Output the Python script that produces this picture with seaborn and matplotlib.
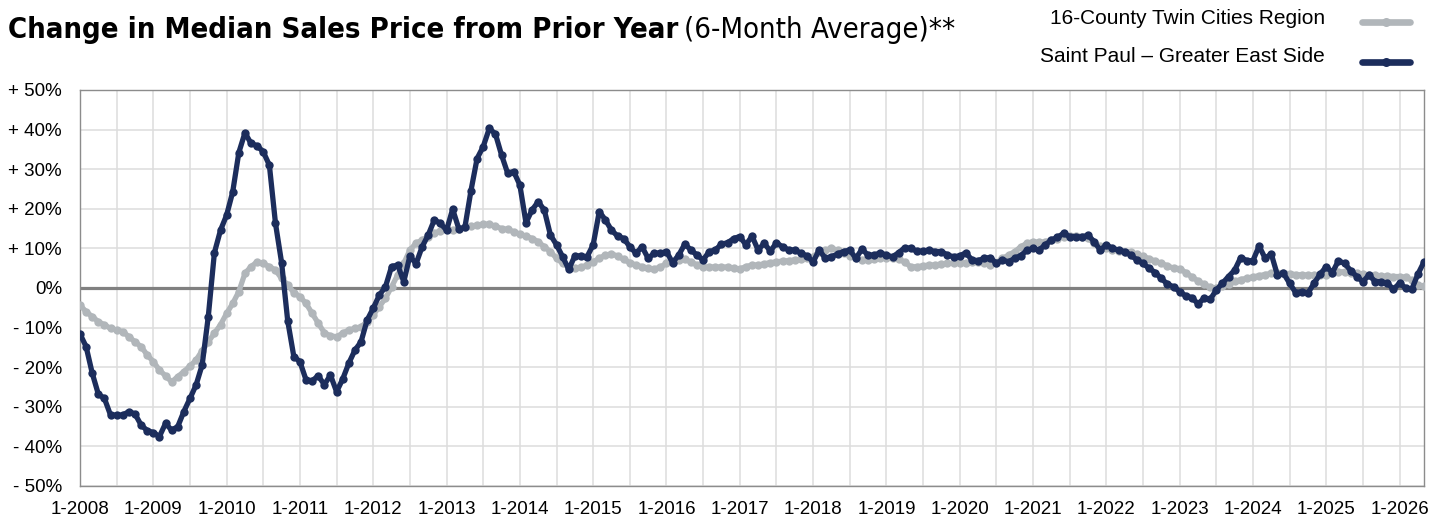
import matplotlib
matplotlib.use("Agg")
import matplotlib.pyplot as plt
from matplotlib.lines import Line2D
from matplotlib import font_manager
import seaborn as sns
import pandas as pd
import numpy as np

# monthly values, 1-2008 .. 5-2026 (percent)
saint_paul = [
    -11.6, -14.8, -21.5, -26.8, -27.9, -32.1, -32.1, -32.1, -31.2, -31.8, -34.6, -36.0,  # 2008
    -36.5, -37.5, -34.2, -35.9, -35.0, -31.2, -27.9, -24.5, -19.4, -7.2, 8.9, 14.6,      # 2009
    18.4, 24.3, 34.2, 39.2, 36.5, 35.9, 34.4, 31.0, 16.3, 6.4, -8.3, -17.3,              # 2010
    -18.6, -23.2, -23.4, -22.2, -24.4, -22.0, -26.2, -23.0, -19.0, -15.7, -13.6, -8.1,   # 2011
    -5.1, -1.8, 0.3, 5.4, 5.8, 1.6, 8.1, 6.1, 10.4, 13.4, 17.2, 16.3,                    # 2012
    14.6, 19.9, 15.0, 15.3, 24.6, 32.7, 35.7, 40.3, 38.9, 33.6, 29.0, 29.4,              # 2013
    26.0, 16.5, 19.7, 21.8, 19.7, 13.4, 10.9, 7.9, 4.7, 8.1, 8.1, 7.9,                   # 2014
    10.9, 19.3, 17.2, 14.6, 13.1, 12.5, 10.4, 8.8, 10.4, 7.5, 8.8, 8.8,                  # 2015
    9.2, 6.4, 8.3, 11.1, 9.6, 8.3, 7.1, 9.2, 9.6, 11.1, 11.4, 12.5,                      # 2016
    13.0, 10.9, 13.1, 9.6, 11.3, 9.3, 11.4, 10.4, 9.6, 9.6, 8.8, 8.1,                    # 2017
    6.6, 9.6, 7.5, 7.9, 8.6, 9.2, 9.6, 7.5, 9.8, 8.3, 8.3, 8.9,                          # 2018
    8.3, 7.9, 8.9, 10.2, 10.0, 9.3, 9.3, 9.6, 9.2, 9.2, 8.3, 7.9,                        # 2019
    8.1, 8.9, 7.1, 6.9, 7.5, 7.7, 6.2, 7.1, 6.6, 7.5, 8.2, 9.5,                          # 2020
    10.0, 9.6, 10.9, 12.1, 12.8, 13.8, 13.0, 13.0, 12.8, 13.4, 11.7, 9.6,                # 2021
    10.9, 10.0, 9.6, 9.2, 8.3, 7.1, 6.2, 5.0, 3.9, 2.4, 1.0, 0.3,                        # 2022
    -0.9, -2.0, -2.4, -4.0, -2.6, -2.9, -0.5, 1.2, 2.9, 4.5, 7.7, 6.9,                   # 2023
    6.9, 10.6, 7.5, 8.6, 3.3, 3.7, 1.2, -1.2, -0.9, -1.3, 1.2, 3.5,                      # 2024
    5.4, 3.9, 6.9, 6.2, 4.4, 2.9, 1.6, 3.3, 1.6, 1.6, 1.2, -0.3,                         # 2025
    1.2, 0.0, -0.3, 3.5, 6.6,                                                            # 2026
]

twin_cities = [
    -4.3, -6.0, -7.2, -8.5, -9.3, -10.2, -10.6, -11.0, -12.3, -13.6, -14.8, -16.9,       # 2008
    -18.6, -20.7, -22.2, -23.7, -22.4, -21.1, -19.7, -18.2, -15.8, -13.6, -11.4, -9.3,   # 2009
    -6.4, -3.9, -0.9, 3.7, 5.4, 6.6, 6.2, 5.4, 4.5, 2.4, 0.8, -1.2,                      # 2010
    -2.2, -3.9, -6.4, -8.9, -11.3, -12.1, -12.3, -11.4, -10.6, -10.2, -9.8, -8.5,        # 2011
    -6.8, -4.7, -2.6, 0.3, 3.3, 6.2, 9.6, 11.3, 12.1, 13.0, 13.8, 14.5,                  # 2012
    14.8, 14.6, 14.8, 15.3, 15.6, 15.9, 16.1, 16.1, 15.6, 15.0, 14.8, 14.2,              # 2013
    13.6, 13.1, 12.5, 11.7, 10.4, 9.2, 7.5, 6.2, 5.4, 5.0, 5.2, 5.8,                     # 2014
    6.6, 7.5, 8.3, 8.6, 8.1, 7.2, 6.4, 5.8, 5.4, 5.0, 4.8, 5.3,                          # 2015
    6.2, 6.6, 7.1, 7.2, 6.6, 5.8, 5.3, 5.3, 5.3, 5.3, 5.3, 5.0,                          # 2016
    4.8, 5.4, 5.8, 5.8, 6.1, 6.4, 6.6, 6.8, 6.9, 7.1, 7.2, 7.5,                          # 2017
    7.9, 9.2, 9.6, 10.0, 9.6, 8.9, 8.1, 7.5, 7.1, 7.1, 7.2, 7.5,                         # 2018
    7.7, 7.5, 7.2, 6.6, 5.3, 5.4, 5.6, 5.8, 5.8, 6.1, 6.2, 6.2,                          # 2019
    6.4, 6.4, 6.6, 6.6, 6.2, 5.8, 6.4, 7.5, 8.3, 9.2, 10.4, 11.3,                        # 2020
    11.7, 11.5, 11.7, 12.1, 12.5, 13.0, 13.2, 13.2, 13.0, 12.6, 11.3, 10.5,              # 2021
    10.0, 9.7, 9.4, 9.2, 9.0, 8.6, 8.0, 7.4, 6.8, 6.2, 5.6, 5.0,                         # 2022
    4.9, 3.9, 2.8, 1.8, 0.9, 0.2, -0.1, 0.4, 1.1, 1.7, 2.1, 2.5,                         # 2023
    2.8, 3.1, 3.4, 3.7, 3.8, 3.8, 3.6, 3.4, 3.3, 3.3, 3.3, 3.3,                          # 2024
    3.4, 3.7, 4.1, 4.1, 3.9, 3.7, 3.5, 3.3, 3.3, 3.0, 3.0, 2.9,                          # 2025
    2.9, 2.7, 2.0, 0.8, 0.4,                                                             # 2026
]

series_names = ["16-County Twin Cities Region", "Saint Paul \u2013 Greater East Side"]
series_colors = ["#b1b6ba", "#1c2d5c"]
first_year = 2008
last_year = 2026

months = np.arange(len(saint_paul))
df = pd.DataFrame({
    "month": np.concatenate([months, months]),
    "change": twin_cities + saint_paul,
    "region": [series_names[0]] * len(months) + [series_names[1]] * len(months),
})

sns.set_style("white")
plt.rcParams["font.family"] = ["Liberation Sans", "DejaVu Sans"]
plt.rcParams["text.color"] = "black"


def pick_narrow_font():
    # a condensed face if one is installed, else plain Liberation Sans
    for fam, stretch in [("Liberation Sans Narrow", "normal"),
                         ("DejaVu Sans", "condensed"),
                         ("Roboto Condensed", "normal")]:
        try:
            fp = font_manager.FontProperties(family=fam, stretch=stretch, weight="bold")
            path = font_manager.findfont(fp, fallback_to_default=False)
            if "Narrow" in path or "Condensed" in path:
                return fam, stretch
        except Exception:
            pass
    return "Liberation Sans", "normal"


title_family, title_stretch = pick_narrow_font()

fig = plt.figure(figsize=(14.42, 5.19), dpi=100)
ax = fig.add_axes([80 / 1442, 1 - 486 / 519, (1424 - 80) / 1442, (486 - 90) / 519])

# grid + zero line
ax.set_axisbelow(True)
ax.grid(True, which="both", color="#dddddd", linewidth=1.1)
ax.axhline(0, color="#808080", linewidth=2.3, zorder=1.5)

sns.lineplot(data=df, x="month", y="change", hue="region",
             hue_order=series_names, palette=series_colors,
             marker="o", markersize=6, markeredgewidth=0,
             linewidth=3.8, legend=False, ax=ax, zorder=3)

ax.set_xlim(0, len(months) - 1)
ax.set_ylim(-50, 50)

year_ticks = np.arange(0, (last_year - first_year) * 12 + 1, 12)
ax.set_xticks(year_ticks)
ax.set_xticklabels([f"1-{first_year + i}" for i in range(len(year_ticks))])
ax.set_xticks(year_ticks[:-1] + 6, minor=True)

yt = np.arange(-50, 51, 10)
ax.set_yticks(yt)
ax.set_yticklabels(["0%" if v == 0 else (f"+ {v}%" if v > 0 else f"- {abs(v)}%") for v in yt])

ax.tick_params(axis="x", which="both", length=0, pad=11, labelsize=13.5, colors="black")
ax.tick_params(axis="y", length=4, width=1, color="#888888", pad=9, labelsize=13.5, labelcolor="black")
ax.set_xlabel("")
ax.set_ylabel("")
for s in ax.spines.values():
    s.set_color("#8c8c8c")
    s.set_linewidth(1)

# title: bold part sized so it ends where the reference's does
renderer = fig.canvas.get_renderer()
size = 25
t1 = fig.text(8 / 1442, 1 - 38 / 519, "Change in Median Sales Price from Prior Year",
              fontsize=size, fontweight="bold", family=title_family,
              fontstretch=title_stretch, va="baseline", ha="left", color="black")
w = t1.get_window_extent(renderer).width
size = size * 672 / w
t1.set_fontsize(size)
bb = t1.get_window_extent(renderer)
t2 = fig.text(bb.x1 / fig.bbox.width + 6 / 1442, 1 - 38 / 519, "(6-Month Average)**",
              fontsize=size, family=title_family, fontstretch=title_stretch,
              va="baseline", ha="left", color="black")

# legend (text right aligned, line sample to the right)
for i, (name, col) in enumerate(zip(series_names, series_colors)):
    ty = 1 - (18 + 39 * i) / 519
    ly = 1 - (22 + 40 * i) / 519
    fig.text(1325 / 1442, ty, name, fontsize=15, ha="right", va="center", color="black")
    fig.add_artist(Line2D([1362 / 1442, 1386 / 1442, 1410 / 1442], [ly, ly, ly],
                          transform=fig.transFigure, color=col, linewidth=4.8,
                          solid_capstyle="round", marker="o", markersize=6.5,
                          markevery=[1], markeredgewidth=0))

fig.savefig("out.png", dpi=100)
